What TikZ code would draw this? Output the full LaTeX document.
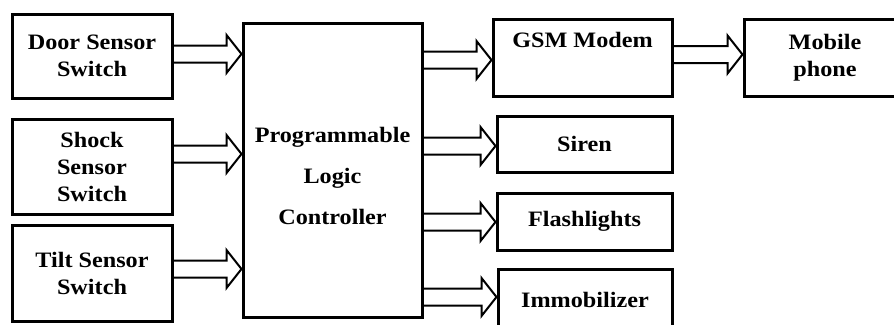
\documentclass[tikz,border=0pt]{standalone}
\usepackage{fontspec}
\setmainfont{Liberation Serif}[FakeStretch=1.1]
\usetikzlibrary{calc}

\tikzset{
  block/.style={draw, line width=3pt, inner sep=0pt, align=center,
    font=\bfseries\fontsize{22}{27}\selectfont},
  caption/.style={inner sep=0pt, align=center,
    font=\bfseries\fontsize{22}{27}\selectfont},
  plccaption/.style={inner sep=0pt, align=center,
    font=\bfseries\fontsize{22}{41}\selectfont},
  fatline/.style={draw, line width=2pt, line join=miter},
}

% hollow block arrow from the east side of #1 to the west side of #2, tip at height #3
\newcommand\fatarrow[3]{%
  \coordinate (#1-to-#2) at (#2.west |- 0,#3);
  \draw[fatline]
    ($(#1.east |- #1-to-#2)+(0,-8.5)$) -- ($(#1-to-#2)+(-15,-8.5)$)
    -- ($(#1-to-#2)+(-15,-19)$) -- (#1-to-#2) -- ($(#1-to-#2)+(-15,19)$)
    -- ($(#1-to-#2)+(-15,8.5)$) -- ($(#1.east |- #1-to-#2)+(0,8.5)$);}

\begin{document}
\begin{tikzpicture}[x=1pt, y=-1pt]
  \useasboundingbox (0,0) rectangle (894,324);
  \clip (0,0) rectangle (894,324);

  % inputs
  \node[block, minimum width=160pt, minimum height=84pt] (door) at (92,56) {Door Sensor\\Switch};
  \node[block, minimum width=160pt, minimum height=95pt] (shock) at (92,166.5) {Shock\\Sensor\\Switch};
  \node[block, minimum width=160pt, minimum height=96pt] (tilt) at (92,273) {Tilt Sensor\\Switch};

  % controller
  \node[block, minimum width=179pt, minimum height=294pt] (plc) at (332.5,170) {};
  \node[plccaption] (plctext) at (332.5,176) {Programmable\\Logic\\Controller};

  % outputs
  \node[block, minimum width=179pt, minimum height=77pt] (gsm) at (582.5,57.5) {GSM Modem\\\strut};
  \node[block, minimum width=175pt, minimum height=56pt] (siren) at (584.5,144) {Siren};
  \node[block, minimum width=175pt, minimum height=57pt] (flash) at (584.5,221.5) {Flashlights};
  \node[block, minimum width=174pt, minimum height=61pt] (immob) at (585,299.5) {Immobilizer};
  \node[block, minimum width=184pt, minimum height=77pt] (mobile) at (836,57.5) {};
  \node[caption] (mobiletext) at (825,57.5) {Mobile\\phone};

  % connections
  \fatarrow{door}{plc}{54}
  \fatarrow{shock}{plc}{154}
  \fatarrow{tilt}{plc}{269}
  \fatarrow{plc}{gsm}{60}
  \fatarrow{plc}{siren}{146}
  \fatarrow{plc}{flash}{222}
  \fatarrow{plc}{immob}{297}
  \fatarrow{gsm}{mobile}{54.5}
\end{tikzpicture}
\end{document}
